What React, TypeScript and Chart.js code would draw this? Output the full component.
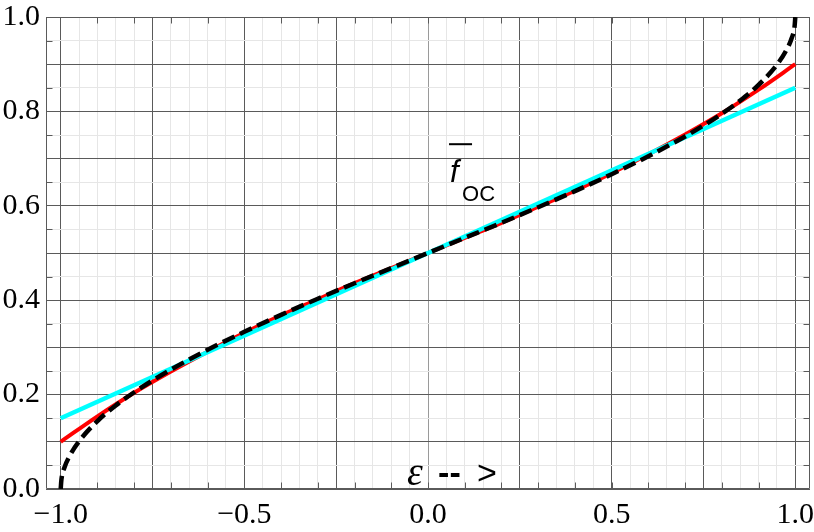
import React, { useEffect, useRef } from "react";
import { Chart, registerables } from "chart.js";
Chart.register(...registerables);

// Data
const cyanX = [-1, 1];
const cyanY = [0.15, 0.85];

const redX = [-1, -0.9, -0.8, -0.7, -0.6, -0.5, -0.4, -0.3, -0.2, -0.1, 0, 0.1, 0.2, 0.3, 0.4, 0.5, 0.6, 0.7, 0.8, 0.9, 1];
const redY = [0.1, 0.154, 0.204, 0.249, 0.291, 0.331, 0.368, 0.402, 0.436, 0.468, 0.5, 0.532, 0.564, 0.598, 0.632, 0.669, 0.709, 0.751, 0.796, 0.846, 0.9];

const blackX = [-1, -0.998, -0.99, -0.975, -0.95, -0.9, -0.85, -0.8, -0.75, -0.7, -0.6, -0.5, -0.4, -0.3, -0.2, -0.1, 0, 0.1, 0.2, 0.3, 0.4, 0.5, 0.6, 0.7, 0.75, 0.8, 0.85, 0.9, 0.95, 0.975, 0.99, 0.998, 1];
const blackY = [0, 0.02, 0.045, 0.071, 0.101, 0.144, 0.177, 0.205, 0.23, 0.253, 0.295, 0.333, 0.369, 0.403, 0.436, 0.468, 0.5, 0.532, 0.564, 0.597, 0.631, 0.667, 0.705, 0.747, 0.77, 0.795, 0.823, 0.856, 0.899, 0.929, 0.955, 0.98, 1];

// Axis ranges and tick labels
const xMin = -1.04;
const xMax = 1.04;
const yMin = 0;
const yMax = 1;
const xTickLabels = [-1, -0.5, 0, 0.5, 1];
const yTickLabels = [0, 0.2, 0.4, 0.6, 0.8, 1];

// Annotation anchor values
const fLabel = { x: 0.06, y: 0.65 };
const epsLabel = { x: -0.057, y: 0.008 };

const SERIF = "'Liberation Serif'";
const SANS = "'Liberation Sans'";

const near = (a: number, b: number) => Math.abs(a - b) < 1e-6;
const isMult = (v: number, step: number) => near(v / step, Math.round(v / step));
const fmt = (v: number) => (v < 0 ? "\u2212" : "") + Math.abs(v).toFixed(1);

const range = (a: number, b: number, step: number) => {
  const out: number[] = [];
  const n = Math.round((b - a) / step);
  for (let i = 0; i <= n; i++) out.push(Math.round((a + i * step) * 1000) / 1000);
  return out;
};

const DARK = "#5a5a5a";
const LIGHT = "#e6e6e6";

const framePlugin = {
  id: "frameTicks",
  beforeDatasetsDraw(chart: any) {
    const { ctx, chartArea, scales } = chart;
    const xs = scales.x, ys = scales.y;
    ctx.save();
    ctx.strokeStyle = DARK;
    ctx.lineWidth = 1;
    const L = Math.round(chartArea.left) + 0.5;
    const R = Math.round(chartArea.right) - 0.5;
    const T = Math.round(chartArea.top) + 0.5;
    const B = Math.round(chartArea.bottom) - 0.5;
    ctx.beginPath();
    ctx.rect(L, T, R - L, B - T);
    ctx.stroke();
    const tl = 6;
    ctx.beginPath();
    range(-0.9, 0.9, 0.1).forEach((v) => {
      const px = Math.round(xs.getPixelForValue(v)) + 0.5;
      ctx.moveTo(px, B);
      ctx.lineTo(px, B - tl);
      ctx.moveTo(px, T);
      ctx.lineTo(px, T + tl);
    });
    range(0.05, 0.95, 0.1).forEach((v) => {
      const py = Math.round(ys.getPixelForValue(v)) + 0.5;
      ctx.moveTo(L, py);
      ctx.lineTo(L + tl, py);
      ctx.moveTo(R, py);
      ctx.lineTo(R - tl, py);
    });
    ctx.stroke();
    ctx.restore();
  },
  afterDatasetsDraw(chart: any) {
    const { ctx, scales } = chart;
    const xs = scales.x, ys = scales.y;
    ctx.save();
    ctx.fillStyle = "#000";
    ctx.textBaseline = "alphabetic";
    ctx.textAlign = "left";
    const fx = xs.getPixelForValue(fLabel.x);
    const fy = ys.getPixelForValue(fLabel.y);
    ctx.font = "italic 31px " + SANS;
    ctx.fillText("f", fx, fy);
    ctx.fillRect(fx - 1, fy - 39, 23, 2);
    ctx.font = "22px " + SANS;
    ctx.fillText("OC", fx + 12, fy + 19);
    const ex = xs.getPixelForValue(epsLabel.x);
    const ey = ys.getPixelForValue(epsLabel.y);
    ctx.font = "italic 40px " + SERIF;
    ctx.fillText("\u03b5", ex, ey);
    ctx.font = "bold 34px " + SANS;
    ctx.fillText("--", ex + 31, ey - 1);
    ctx.font = "34px " + SANS;
    ctx.fillText(">", ex + 70, ey - 1);
    ctx.restore();
  },
};

export default function App() {
  const ref = useRef<HTMLCanvasElement | null>(null);
  useEffect(() => {
    if (!ref.current) return;
    const mk = (xa: number[], ya: number[]) => xa.map((x, i) => ({ x, y: ya[i] }));
    const chart = new Chart(ref.current, {
      type: "line",
      data: {
        datasets: [
          {
            data: mk(blackX, blackY),
            borderColor: "#000",
            borderWidth: 4.5,
            borderDash: [13, 6],
            pointRadius: 0,
            cubicInterpolationMode: "monotone",
            fill: false,
          },
          {
            data: mk(cyanX, cyanY),
            borderColor: "#00ffff",
            borderWidth: 4.5,
            pointRadius: 0,
            tension: 0,
            fill: false,
          },
          {
            data: mk(redX, redY),
            borderColor: "#ff0000",
            borderWidth: 4,
            pointRadius: 0,
            cubicInterpolationMode: "monotone",
            fill: false,
          },
        ],
      } as any,
      options: {
        animation: false,
        responsive: false,
        devicePixelRatio: 1,
        layout: { padding: { top: 17, right: 4, left: 0, bottom: 0 } },
        plugins: { legend: { display: false }, tooltip: { enabled: false } },
        scales: {
          x: {
            type: "linear",
            min: xMin,
            max: xMax,
            afterBuildTicks: (s: any) => {
              s.ticks = range(-1, 1, 0.05).map((v) => ({ value: v }));
            },
            afterFit: (s: any) => {
              s.height = 43;
              s.paddingLeft = 0;
              s.paddingRight = 0;
            },
            border: { display: false },
            grid: {
              drawTicks: false,
              lineWidth: 1,
              color: (c: any) => {
                const v = c.tick ? c.tick.value : 1;
                if (near(v, 0)) return "#9a9a9a";
                return isMult(v, 0.25) ? DARK : LIGHT;
              },
            },
            ticks: {
              autoSkip: false,
              maxRotation: 0,
              minRotation: 0,
              padding: 8,
              color: "#000",
              font: { family: SERIF, size: 30 },
              callback: (v: any) => (xTickLabels.some((t) => near(t, v)) ? fmt(v) : ""),
            },
          },
          y: {
            type: "linear",
            min: yMin,
            max: yMax,
            afterBuildTicks: (s: any) => {
              s.ticks = range(0, 1, 0.05).map((v) => ({ value: v }));
            },
            afterFit: (s: any) => {
              s.width = 46;
              s.paddingTop = 0;
              s.paddingBottom = 0;
            },
            border: { display: false },
            grid: {
              drawTicks: false,
              lineWidth: 1,
              color: (c: any) => {
                const v = c.tick ? c.tick.value : 1;
                return isMult(v, 0.1) ? DARK : LIGHT;
              },
            },
            ticks: {
              autoSkip: false,
              padding: 6,
              color: "#000",
              font: { family: SERIF, size: 30 },
              callback: (v: any) => (yTickLabels.some((t) => near(t, v)) ? fmt(v) : ""),
            },
          },
        },
      } as any,
      plugins: [framePlugin],
    });
    return () => chart.destroy();
  }, []);
  return (
    <div style={{ position: "absolute", left: 0, top: 0, width: 814, height: 532, background: "#fff" }}>
      <canvas ref={ref} width={814} height={532} style={{ display: "block" }} />
    </div>
  );
}
